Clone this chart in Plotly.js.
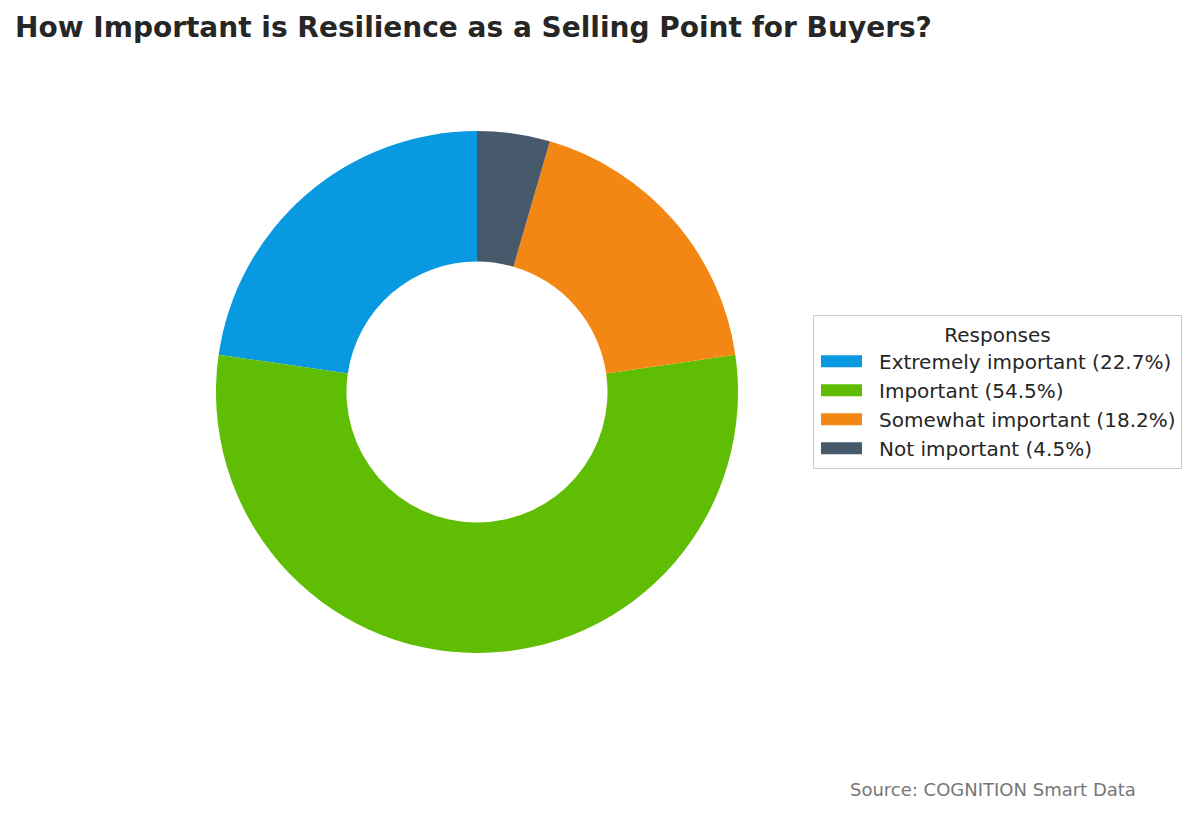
<!DOCTYPE html>
<html>
<head>
<meta charset="utf-8">
<script src="https://cdn.plot.ly/plotly-3.0.1.min.js"></script>
<style>
  html, body { margin: 0; padding: 0; background: #fff; }
  #chart { width: 1200px; height: 813px; }
</style>
</head>
<body>
<div id="chart"></div>
<script>
const categories = ["Extremely important", "Important", "Somewhat important", "Not important"];
const shares = [22.7, 54.5, 18.2, 4.5];
const colors = ["#0899e0", "#5fbe04", "#f48614", "#475a6b"];

const labels = categories.map((c, i) => c + " (" + shares[i].toFixed(1) + "%)");

// plotly puts the end of the first slice at the rotation angle when going
// counterclockwise, so turn it back so the first slice starts at 12 o'clock
const total = shares.reduce((a, b) => a + b, 0);
const startRotation = -(shares[0] / total) * 360;

const data = [
  {
    type: "pie",
    labels: labels,
    values: shares,
    hole: 0.5,
    sort: false,
    direction: "counterclockwise",
    rotation: startRotation,
    textinfo: "none",
    hoverinfo: "label",
    marker: { colors: colors, line: { width: 0 } },
    domain: { x: [0.18, 0.615], y: [0.1968, 0.8389] },
  },
];

const layout = {
  width: 1200,
  height: 813,
  margin: { l: 0, r: 0, t: 0, b: 0 },
  paper_bgcolor: "#fff",
  font: { family: "DejaVu Sans", color: "#262626" },
  title: {
    text: "<b>How Important is Resilience as a Selling Point for Buyers?</b>",
    x: 0.0125,
    xanchor: "left",
    y: 0.967,
    yanchor: "middle",
    font: { family: "DejaVu Sans", size: 28, color: "#262626" },
  },
  showlegend: true,
  legend: {
    x: 0.6775,
    xanchor: "left",
    y: 0.518,
    yanchor: "middle",
    bgcolor: "#fff",
    bordercolor: "#cccccc",
    borderwidth: 1,
    itemwidth: 55,
    font: { family: "DejaVu Sans", size: 20, color: "#262626" },
    title: { text: "Responses", side: "top center", font: { size: 20, color: "#262626" } },
    tracegroupgap: 0,
  },
  annotations: [
    {
      text: "Source: COGNITION Smart Data",
      xref: "paper",
      yref: "paper",
      x: 0.9485,
      xanchor: "right",
      y: 0.0295,
      yanchor: "middle",
      showarrow: false,
      font: { family: "DejaVu Sans", size: 18, color: "#777777" },
    },
  ],
};

Plotly.newPlot("chart", data, layout, { displayModeBar: false }).then((gd) => {
  // widen the legend swatches into flat bars like the original
  gd.querySelectorAll(".legendpoints path.legendpie").forEach((p) => {
    p.setAttribute("d", "M15.5,6H-25.5V-6H15.5Z");
  });
});
</script>
</body>
</html>
